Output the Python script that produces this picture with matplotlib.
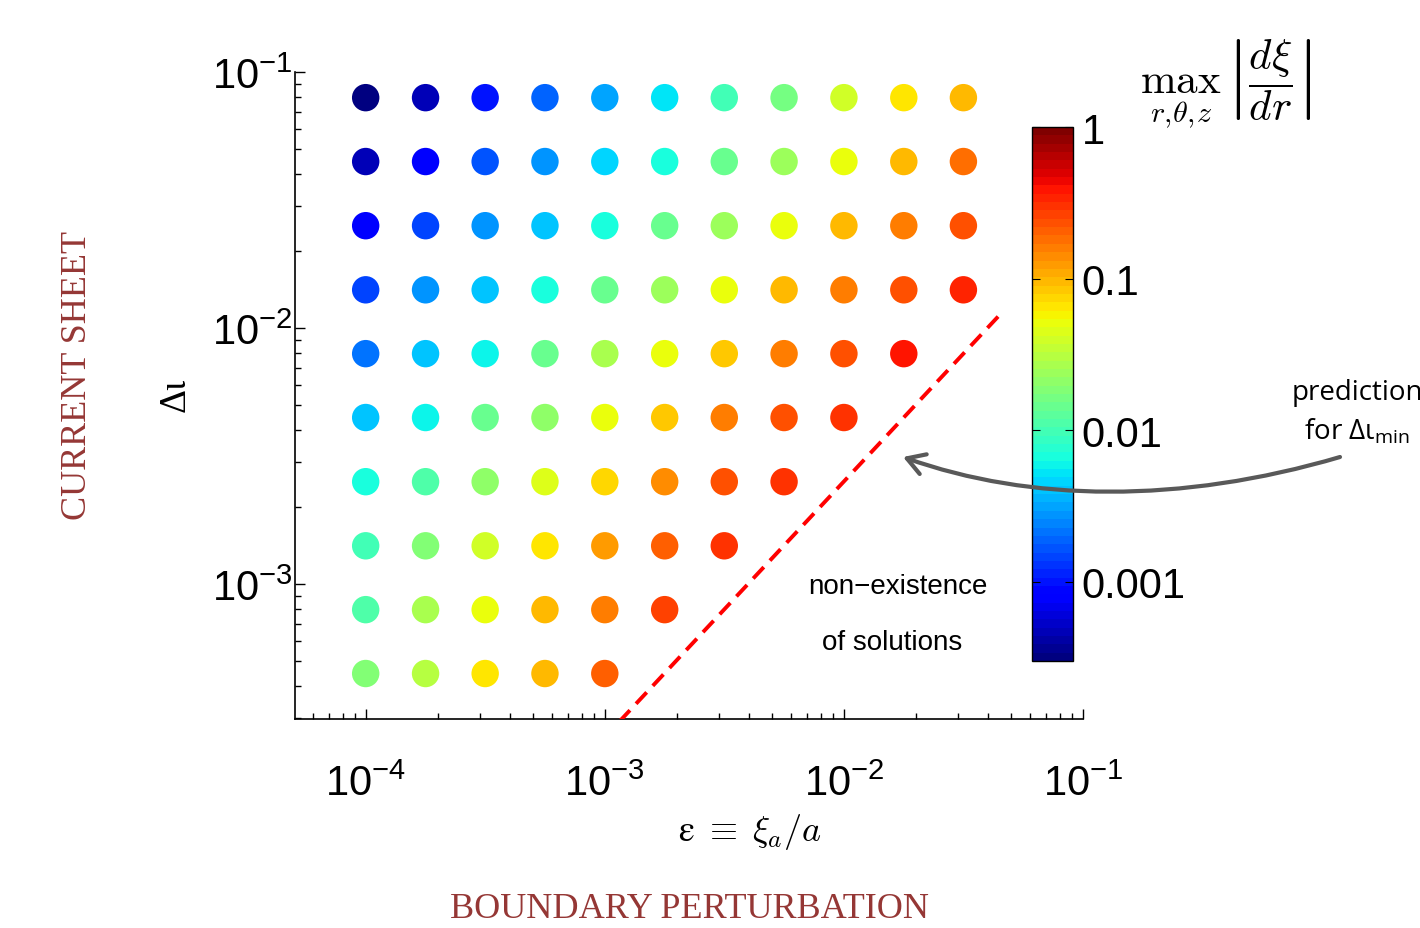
import matplotlib
matplotlib.use('Agg')
import matplotlib.pyplot as plt
from matplotlib.colors import LogNorm
from matplotlib.patches import FancyArrowPatch
from matplotlib.path import Path

plt.rcParams['font.family'] = ['Liberation Sans', 'DejaVu Sans']
plt.rcParams['mathtext.fontset'] = 'custom'
plt.rcParams['mathtext.rm'] = 'Liberation Sans'
plt.rcParams['mathtext.it'] = 'Liberation Sans:italic'

# boundary perturbation eps (columns) and current sheet width (rows)
eps = [1e-4, 1.78e-4, 3.16e-4, 5.62e-4, 1e-3, 1.78e-3, 3.16e-3, 5.62e-3, 1e-2, 1.78e-2, 3.16e-2]
diota = [7.94e-2, 4.47e-2, 2.51e-2, 1.41e-2, 7.94e-3, 4.47e-3, 2.51e-3, 1.41e-3, 7.94e-4, 4.47e-4]

# max |dxi/dr| for each row (only where solutions exist)
maxslope = [
    [3.0e-4, 4.7e-4, 1.0e-3, 1.9e-3, 3.3e-3, 5.2e-3, 9.9e-3, 1.7e-2, 3.9e-2, 6.4e-2, 0.10],
    [4.7e-4, 8.0e-4, 1.7e-3, 2.7e-3, 4.8e-3, 7.1e-3, 1.36e-2, 2.5e-2, 5.4e-2, 9.5e-2, 0.17],
    [8.0e-4, 1.4e-3, 2.7e-3, 4.2e-3, 7.1e-3, 1.36e-2, 2.5e-2, 5.0e-2, 9.5e-2, 0.16, 0.22],
    [1.4e-3, 2.7e-3, 4.2e-3, 7.1e-3, 1.36e-2, 2.5e-2, 5.0e-2, 9.5e-2, 0.16, 0.23, 0.35],
    [2.1e-3, 4.2e-3, 6.0e-3, 1.36e-2, 2.7e-2, 5.0e-2, 8.1e-2, 0.16, 0.23, 0.39],
    [4.2e-3, 6.0e-3, 1.36e-2, 2.0e-2, 5.0e-2, 8.1e-2, 0.16, 0.23, 0.30],
    [6.3e-3, 1.16e-2, 2.0e-2, 4.6e-2, 7.5e-2, 0.14, 0.23, 0.30],
    [9.9e-3, 1.74e-2, 3.9e-2, 6.6e-2, 0.12, 0.21, 0.30],
    [1.16e-2, 2.7e-2, 5.0e-2, 9.5e-2, 0.16, 0.26],
    [1.74e-2, 3.1e-2, 6.4e-2, 0.10, 0.20],
]

# prediction for the minimum current sheet width (dashed line)
pred_eps = [1.15e-3, 4.5e-2]
pred_diota = [2.9e-4, 1.13e-2]

cbar_ticks = [1e-3, 1e-2, 1e-1, 1]
cbar_labels = ['0.001', '0.01', '0.1', '1']

xs, ys, cs = [], [], []
for i, row in enumerate(maxslope):
    for j, v in enumerate(row):
        xs.append(eps[j])
        ys.append(diota[i])
        cs.append(v)

fig = plt.figure(figsize=(14.2, 9.29), dpi=100)
ax = fig.add_axes([0.2077, 0.2250, 0.555, 0.6964])

cmap = matplotlib.colormaps['jet'].resampled(64)
norm = LogNorm(vmin=3.0e-4, vmax=1)
sc = ax.scatter(xs, ys, c=cs, cmap=cmap, norm=norm, s=390, edgecolors='none', zorder=3)

ax.plot(pred_eps, pred_diota, color='red', lw=2.8, linestyle=(0, (4, 2.3)), zorder=4)

ax.set_xscale('log')
ax.set_yscale('log')
ax.set_xlim(5.06e-5, 1e-1)
ax.set_ylim(2.97e-4, 1e-1)
ax.spines['top'].set_visible(False)
ax.spines['right'].set_visible(False)
for sp in ('left', 'bottom'):
    ax.spines[sp].set_linewidth(1.2)
ax.tick_params(which='both', direction='in', top=False, right=False, width=1)
ax.tick_params(which='major', length=7, labelsize=30)
ax.tick_params(which='minor', length=4)
ax.tick_params(axis='x', which='major', pad=32)
ax.tick_params(axis='y', which='major', pad=2)

# colorbar
cax = fig.add_axes([0.7268, 0.2874, 0.0289, 0.5748])
cb = fig.colorbar(sc, cax=cax)
cb.minorticks_off()
cb.set_ticks(cbar_ticks)
cb.set_ticklabels(cbar_labels)
cax.tick_params(which='major', direction='in', left=True, right=True, length=6,
                labelsize=30, pad=6)
cb.outline.set_linewidth(1)

fig.text(1226 / 1420, 1 - 84 / 929,
         r'$\max_{r,\!\theta,\!z}\,\left|\dfrac{d\xi}{dr}\right|$',
         math_fontfamily='cm', fontsize=31, ha='center', va='center')

# axis labels
fig.text(750 / 1420, 1 - 832 / 929, r'$\mathrm{ε}\;\equiv\;\xi_a/a$', math_fontfamily='cm',
         fontsize=26, ha='center', va='center')
fig.text(175 / 1420, 1 - 395 / 929, 'Δι', rotation=90, family='Liberation Serif',
         fontsize=27, ha='center', va='center')

brown = '#953735'
fig.text(78 / 1420, 1 - 375 / 929, 'CURRENT SHEET', rotation=90, family='Liberation Serif',
         fontsize=26, color=brown, ha='center', va='center')
fig.text(690 / 1420, 1 - 910 / 929, 'BOUNDARY PERTURBATION', family='Liberation Serif',
         fontsize=26, color=brown, ha='center', va='center')

# region annotation
fig.text(898 / 1420, 1 - 587 / 929, 'non\u2212existence', fontsize=20, ha='center', va='center')
fig.text(892 / 1420, 1 - 643 / 929, 'of solutions', fontsize=20, ha='center', va='center')

fig.text(1357 / 1420, 1 - 393 / 929, 'prediction', family='Open Sans', fontsize=20,
         ha='center', va='center')
fig.text(1357 / 1420, 1 - 432 / 929, r'for Δι$_{\mathdefault{min}}$', family='Open Sans',
         fontsize=20, ha='center', va='center')

W, H = 1420, 929
pts = [(1340, 458), (1180, 505), (1030, 503), (903, 458)]
verts = [(x / W, 1 - y / H) for x, y in pts]
arrow = FancyArrowPatch(path=Path(verts, [Path.MOVETO, Path.CURVE4, Path.CURVE4, Path.CURVE4]),
                        arrowstyle='->,head_length=0.5,head_width=0.3', mutation_scale=25,
                        color='#595959', lw=3, transform=fig.transFigure, zorder=5)
fig.add_artist(arrow)

fig.savefig('out.png', dpi=100)
